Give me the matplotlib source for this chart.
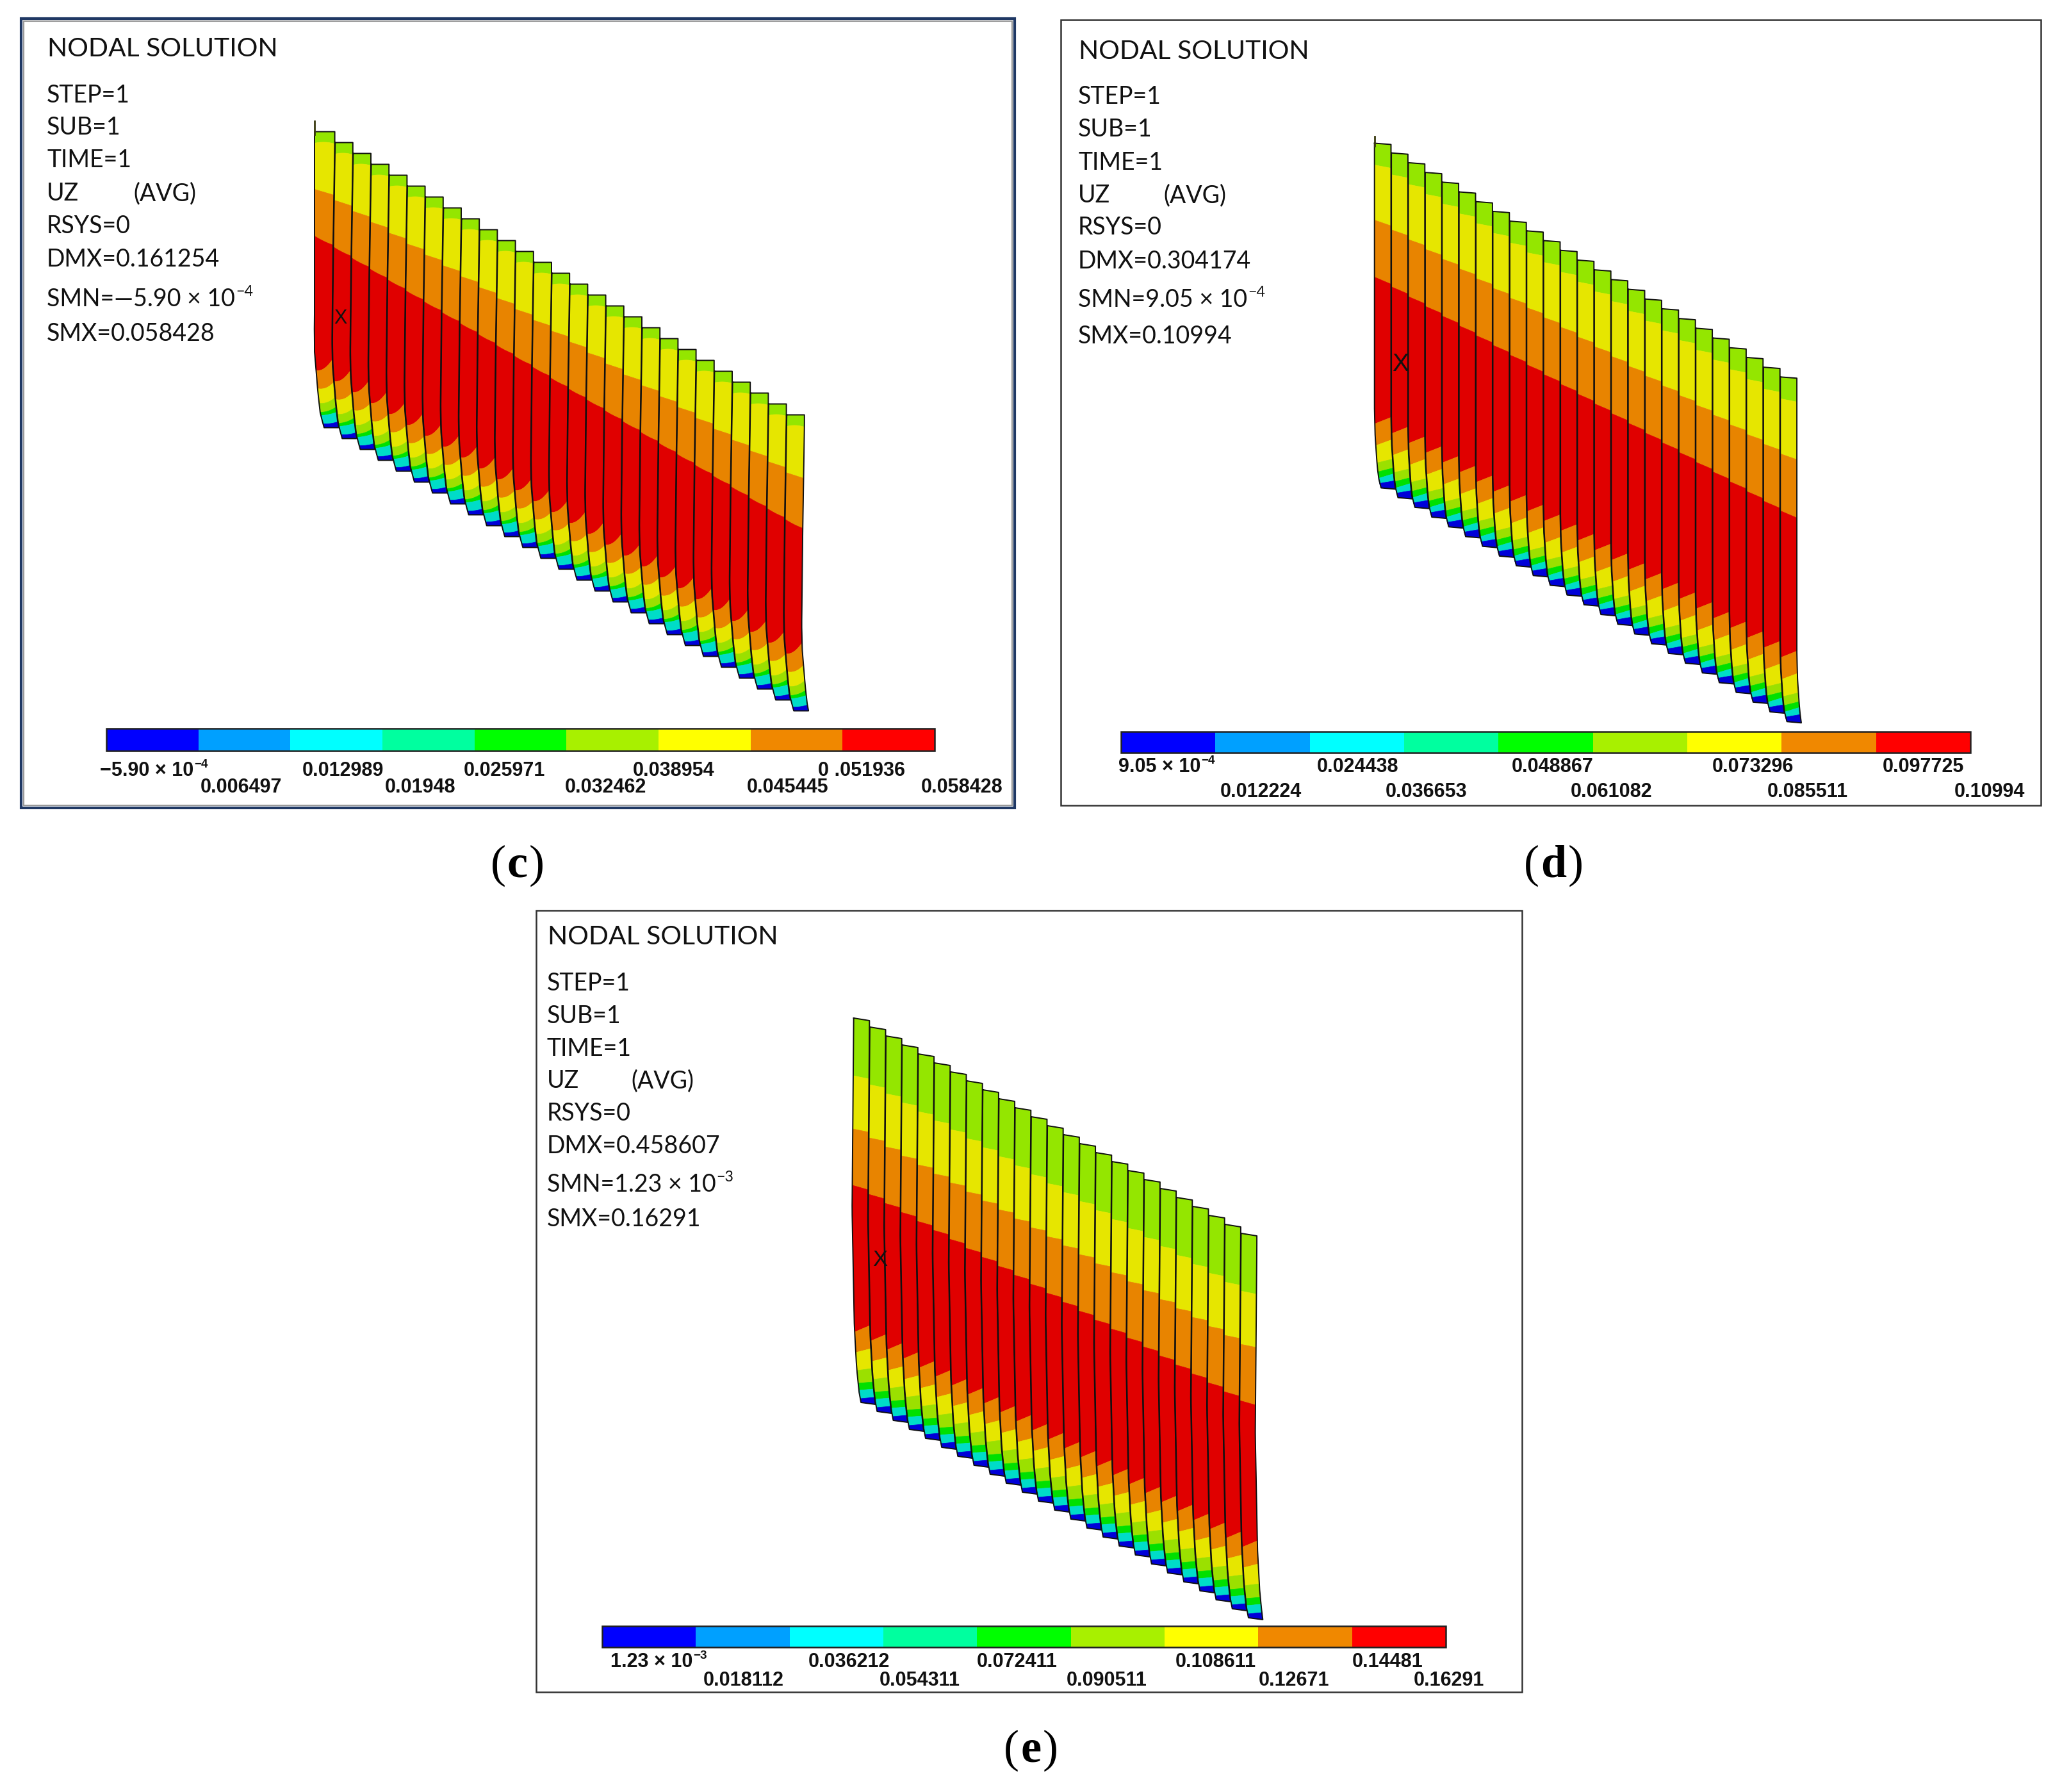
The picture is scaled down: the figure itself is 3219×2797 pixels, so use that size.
"""
Three UZ nodal solution contour panels (c), (d), (e) of a blade row.
"""

import numpy as np
import matplotlib
matplotlib.use("Agg")
import matplotlib.pyplot as plt
from matplotlib.patches import Rectangle

# ─── Text and values ─────────────────────────────────────────────────────────

C_INFO = ["STEP=1", "SUB=1", "TIME=1", "UZ", "RSYS=0", "DMX=0.161254"]
C_SMN = ("SMN=\u20145.90 × 10", "\u22124")
C_SMX = "SMX=0.058428"
C_FIRST = ("\u22125.90 × 10", "\u22124")
C_UPPER = ["0.012989", "0.025971", "0.038954", "0 .051936"]
C_LOWER = ["0.006497", "0.01948", "0.032462", "0.045445", "0.058428"]

D_INFO = ["STEP=1", "SUB=1", "TIME=1", "UZ", "RSYS=0", "DMX=0.304174"]
D_SMN = ("SMN=9.05 × 10", "\u22124")
D_SMX = "SMX=0.10994"
D_FIRST = ("9.05 × 10", "\u22124")
D_UPPER = ["0.024438", "0.048867", "0.073296", "0.097725"]
D_LOWER = ["0.012224", "0.036653", "0.061082", "0.085511", "0.10994"]

E_INFO = ["STEP=1", "SUB=1", "TIME=1", "UZ", "RSYS=0", "DMX=0.458607"]
E_SMN = ("SMN=1.23 × 10", "\u22123")
E_SMX = "SMX=0.16291"
E_FIRST = ("1.23 × 10", "\u22123")
E_UPPER = ["0.036212", "0.072411", "0.108611", "0.14481"]
E_LOWER = ["0.018112", "0.054311", "0.090511", "0.12671", "0.16291"]

# Legend colours, low to high
LEGEND_COLORS = ["#0000FF", "#00A0FF", "#00FFFF", "#00FF9F", "#00FF00",
                 "#A8F000", "#FFFF00", "#F08800", "#FF0000"]

# Colour of each band along a blade, top to bottom
BAND_COLORS = ["#94E600", "#E6E600", "#E88400", "#E00000", "#E88400",
               "#E6E600", "#9BE000", "#00E000", "#00DCC8", "#0000D8"]

C_BAND_LEFT = [0, 18, 90, 163, 373, 401, 424, 438, 443, 456, 462]
C_BAND_RIGHT = [0, 19, 99, 177, 356, 391, 415, 430, 438, 453, 462]
C_BAND_SAG = [0, -2, 0, 1, 5, 4, 3, 2, 1, 1, 0]
D_BAND_LEFT = [0, 34, 120, 209, 438, 472, 499, 513, 523, 531, 538]
D_BAND_RIGHT = [2, 39, 129, 220, 428, 463, 493, 507, 516, 527, 540]
D_BAND_SAG = [0] * 11
E_BAND_LEFT = [0, 90, 173, 261, 490, 522, 550, 570, 581, 594, 600]
E_BAND_RIGHT = [4, 95, 178, 268, 480, 516, 547, 568, 579, 592, 603]
E_BAND_SAG = [0] * 11

# Blade side edge: sideways shift at given distances below the top corner
C_EDGE_Y = [0, 166, 311, 349, 407, 440, 462]
C_EDGE_LEFT = [0, -2.7, -4.3, -3.5, 1.3, 5, 11]
D_EDGE_Y = [0, 415, 456, 505, 530, 540]
D_EDGE_LEFT = [0, 0, 1, 4.3, 7.6, 11]
E_EDGE_Y = [0, 300, 480, 545, 585, 603]
E_EDGE_LEFT = [0, -2.5, 1, 4.5, 8.5, 12]

BAR_CELLS = np.arange(9)


# ─── Drawing helpers ─────────────────────────────────────────────────────────

def boundary(edge_y, left, right, lo, ro, sag):
    u = np.linspace(0, 1, 14)
    off = lo + (ro - lo) * u + sag * 4 * u * (1 - u)
    xl = np.interp(off, edge_y, left)
    xr = np.interp(off, edge_y, right)
    return xl + u * (xr - xl), off


def draw_blades(ax, x0, y0, dx, dy, count, edge_y, left, band_left, band_right, band_sag, spike=None):
    # Right side of a blade is the left side of the next one, so they share a line
    fine_y = np.linspace(0, edge_y[-1], 120)
    fine_left = np.interp(fine_y, edge_y, left)
    fine_right = dx - 0.6 + np.interp(fine_y - dy, edge_y, left)

    for i in range(count):
        bx = x0 + i * dx
        by = y0 + i * dy
        lft = fine_left.copy()
        if spike is not None and i == 0:
            top_part = fine_y < edge_y[-1] * 0.75
            lft[top_part] = np.minimum(lft[top_part], spike[0])

        for b, color in enumerate(BAND_COLORS):
            xa, ya = boundary(fine_y, lft, fine_right, band_left[b], band_right[b], band_sag[b])
            xb, yb = boundary(fine_y, lft, fine_right, band_left[b + 1], band_right[b + 1], band_sag[b + 1])
            ry = np.linspace(ya[-1], yb[-1], 8)
            ly = np.linspace(yb[0], ya[0], 8)
            xs = np.concatenate([xa, np.interp(ry, fine_y, fine_right), xb[::-1], np.interp(ly, fine_y, lft)])
            ys = np.concatenate([ya, ry, yb[::-1], ly])
            ax.fill(bx + xs, by + ys, facecolor=color, edgecolor=color, linewidth=0.5, zorder=2 + i * 0.01)

        # Outline of the blade
        xt, yt = boundary(fine_y, lft, fine_right, band_left[0], band_right[0], 0)
        xe, ye = boundary(fine_y, lft, fine_right, band_left[-1], band_right[-1], 0)
        ry = np.linspace(yt[-1], ye[-1], 40)
        ly = np.linspace(ye[0], yt[0], 40)
        xs = np.concatenate([xt, np.interp(ry, fine_y, fine_right), xe[::-1], np.interp(ly, fine_y, lft)])
        ys = np.concatenate([yt, ry, ye[::-1], ly])
        ax.plot(bx + xs, by + ys, color="#101010", linewidth=1.4, zorder=3 + i * 0.01,
                solid_joinstyle="round")

    if spike is not None:
        ax.plot([x0 + spike[0]] * 2, [y0 - spike[1], y0 + 4], color="#3A3A10", linewidth=2.0, zorder=4)


def text_with_sup(ax, fig, x, y, pair, sup_scale=0.62, ha="left", **kw):
    base = ax.text(x, y, pair[0], ha=ha, va="center", **kw)
    box = base.get_window_extent(fig.canvas.get_renderer())
    size = kw.pop("fontsize")
    ax.text(box.x1 + 1, y - size * 0.42, pair[1], ha="left", va="center",
            fontsize=size * sup_scale, **kw)


def draw_info(ax, fig, x, ys, avg_x, info, smn, smx):
    ax.text(x + 1, ys[0], "NODAL SOLUTION", fontsize=INFO_TITLE_SIZE, family=INFO_FONT, va="center", color="#111111")
    for line, y in zip(info, ys[1:7]):
        ax.text(x, y, line, fontsize=INFO_SIZE, family=INFO_FONT, va="center", color="#111111")
    ax.text(avg_x, ys[4], "(AVG)", fontsize=INFO_SIZE, family=INFO_FONT, va="center", color="#111111")
    text_with_sup(ax, fig, x, ys[7], smn, fontsize=INFO_SIZE, family=INFO_FONT, color="#111111")
    ax.text(x, ys[8], smx, fontsize=INFO_SIZE, family=INFO_FONT, va="center", color="#111111")


def draw_legend(ax, fig, x0, x1, y0, y1, first, first_x, upper, upper_x, lower, lower_x, row1, row2):
    w = (x1 - x0) / len(LEGEND_COLORS)
    ax.bar(x0 + BAR_CELLS * w, y1 - y0, width=w, bottom=y0, align="edge", color=LEGEND_COLORS, linewidth=0, zorder=2)
    ax.add_patch(Rectangle((x0, y0), x1 - x0, y1 - y0, fill=False, edgecolor="#202020", linewidth=1.8, zorder=3))
    text_with_sup(ax, fig, first_x, row1, first, fontsize=LEGEND_SIZE, family=LEGEND_FONT,
                  fontweight="bold", color="#111111")
    for label, x in zip(upper, upper_x):
        ax.text(x, row1, label, ha="center", va="center", fontsize=LEGEND_SIZE, family=LEGEND_FONT,
                fontweight="bold", color="#111111")
    for label, x in zip(lower, lower_x):
        ax.text(x, row2, label, ha="center", va="center", fontsize=LEGEND_SIZE, family=LEGEND_FONT,
                fontweight="bold", color="#111111")


def draw_caption(ax, fig, cx, y, letter):
    parts = [("(", "normal"), (letter, "bold"), (")", "normal")]
    renderer = fig.canvas.get_renderer()
    x = cx - 42
    for s, weight in parts:
        t = ax.text(x, y, s, fontsize=CAPTION_SIZE, family="Liberation Serif", fontweight=weight,
                    ha="left", va="center", color="black")
        x += t.get_window_extent(renderer).width + 2


# ─── Figure ──────────────────────────────────────────────────────────────────

INFO_FONT = "Lato"
LEGEND_FONT = "Liberation Sans"
INFO_TITLE_SIZE = 29.4
INFO_SIZE = 27
LEGEND_SIZE = 22
CAPTION_SIZE = 52

fig = plt.figure(figsize=(32.19, 27.97), dpi=100)
ax = fig.add_axes([0, 0, 1, 1])
ax.set_xlim(0, 3219)
ax.set_ylim(2797, 0)
ax.axis("off")

# Panel frames
ax.add_patch(Rectangle((33, 29), 1551, 1232, fill=False, edgecolor="#1F3864", linewidth=3.0))
ax.add_patch(Rectangle((37, 33), 1543, 1224, fill=False, edgecolor="#999999", linewidth=1.5))
ax.add_patch(Rectangle((1656, 31), 1530, 1226, fill=False, edgecolor="#333333", linewidth=1.8))
ax.add_patch(Rectangle((837, 1421), 1539, 1220, fill=False, edgecolor="#333333", linewidth=1.8))

# Panel (c)
draw_blades(ax, 495, 205.5, 28.2, 17.0, 27, C_EDGE_Y, C_EDGE_LEFT,
            C_BAND_LEFT, C_BAND_RIGHT, C_BAND_SAG, spike=(-4, 17))
ax.text(532, 497, "X", ha="center", va="center", fontsize=22, family="Liberation Sans", color="#111111", zorder=6)
draw_info(ax, fig, 73, [76, 149, 199, 250, 302, 353, 405, 467, 521], 208, C_INFO, C_SMN, C_SMX)
draw_legend(ax, fig, 166, 1459, 1137, 1172, C_FIRST, 156, C_UPPER, [535, 787, 1052, 1345],
            C_LOWER, [377, 656, 945, 1230, 1502], 1203, 1229)
draw_caption(ax, fig, 808, 1351, "c")

# Panel (d)
draw_blades(ax, 2145.7, 223.5, 26.4, 15.2, 25, D_EDGE_Y, D_EDGE_LEFT,
            D_BAND_LEFT, D_BAND_RIGHT, D_BAND_SAG, spike=(0, 11))
ax.text(2186, 569, "X", ha="center", va="center", fontsize=28, family="Liberation Sans", color="#111111", zorder=6)
draw_info(ax, fig, 1683, [80, 151, 202, 254, 305, 355, 408, 468, 525], 1816, D_INFO, D_SMN, D_SMX)
draw_legend(ax, fig, 1750, 3076, 1142, 1175, D_FIRST, 1746, D_UPPER, [2120, 2424, 2736, 3002],
            D_LOWER, [1968, 2227, 2516, 2822, 3106], 1197, 1236)
draw_caption(ax, fig, 2421, 1351, "d")

# Panel (e)
draw_blades(ax, 1332.7, 1589, 25.2, 14.0, 25, E_EDGE_Y, E_EDGE_LEFT,
            E_BAND_LEFT, E_BAND_RIGHT, E_BAND_SAG)
ax.text(1374, 1967, "X", ha="center", va="center", fontsize=25, family="Liberation Sans", color="#111111", zorder=6)
draw_info(ax, fig, 854, [1463, 1535, 1586, 1637, 1687, 1738, 1789, 1849, 1903], 985, E_INFO, E_SMN, E_SMX)
draw_legend(ax, fig, 940, 2257, 2538, 2571, E_FIRST, 953, E_UPPER, [1325, 1588, 1898, 2166],
            E_LOWER, [1161, 1436, 1728, 2020, 2262], 2594, 2623)
draw_caption(ax, fig, 1609, 2732, "e")

fig.savefig("out.png", dpi=100, facecolor="white")
